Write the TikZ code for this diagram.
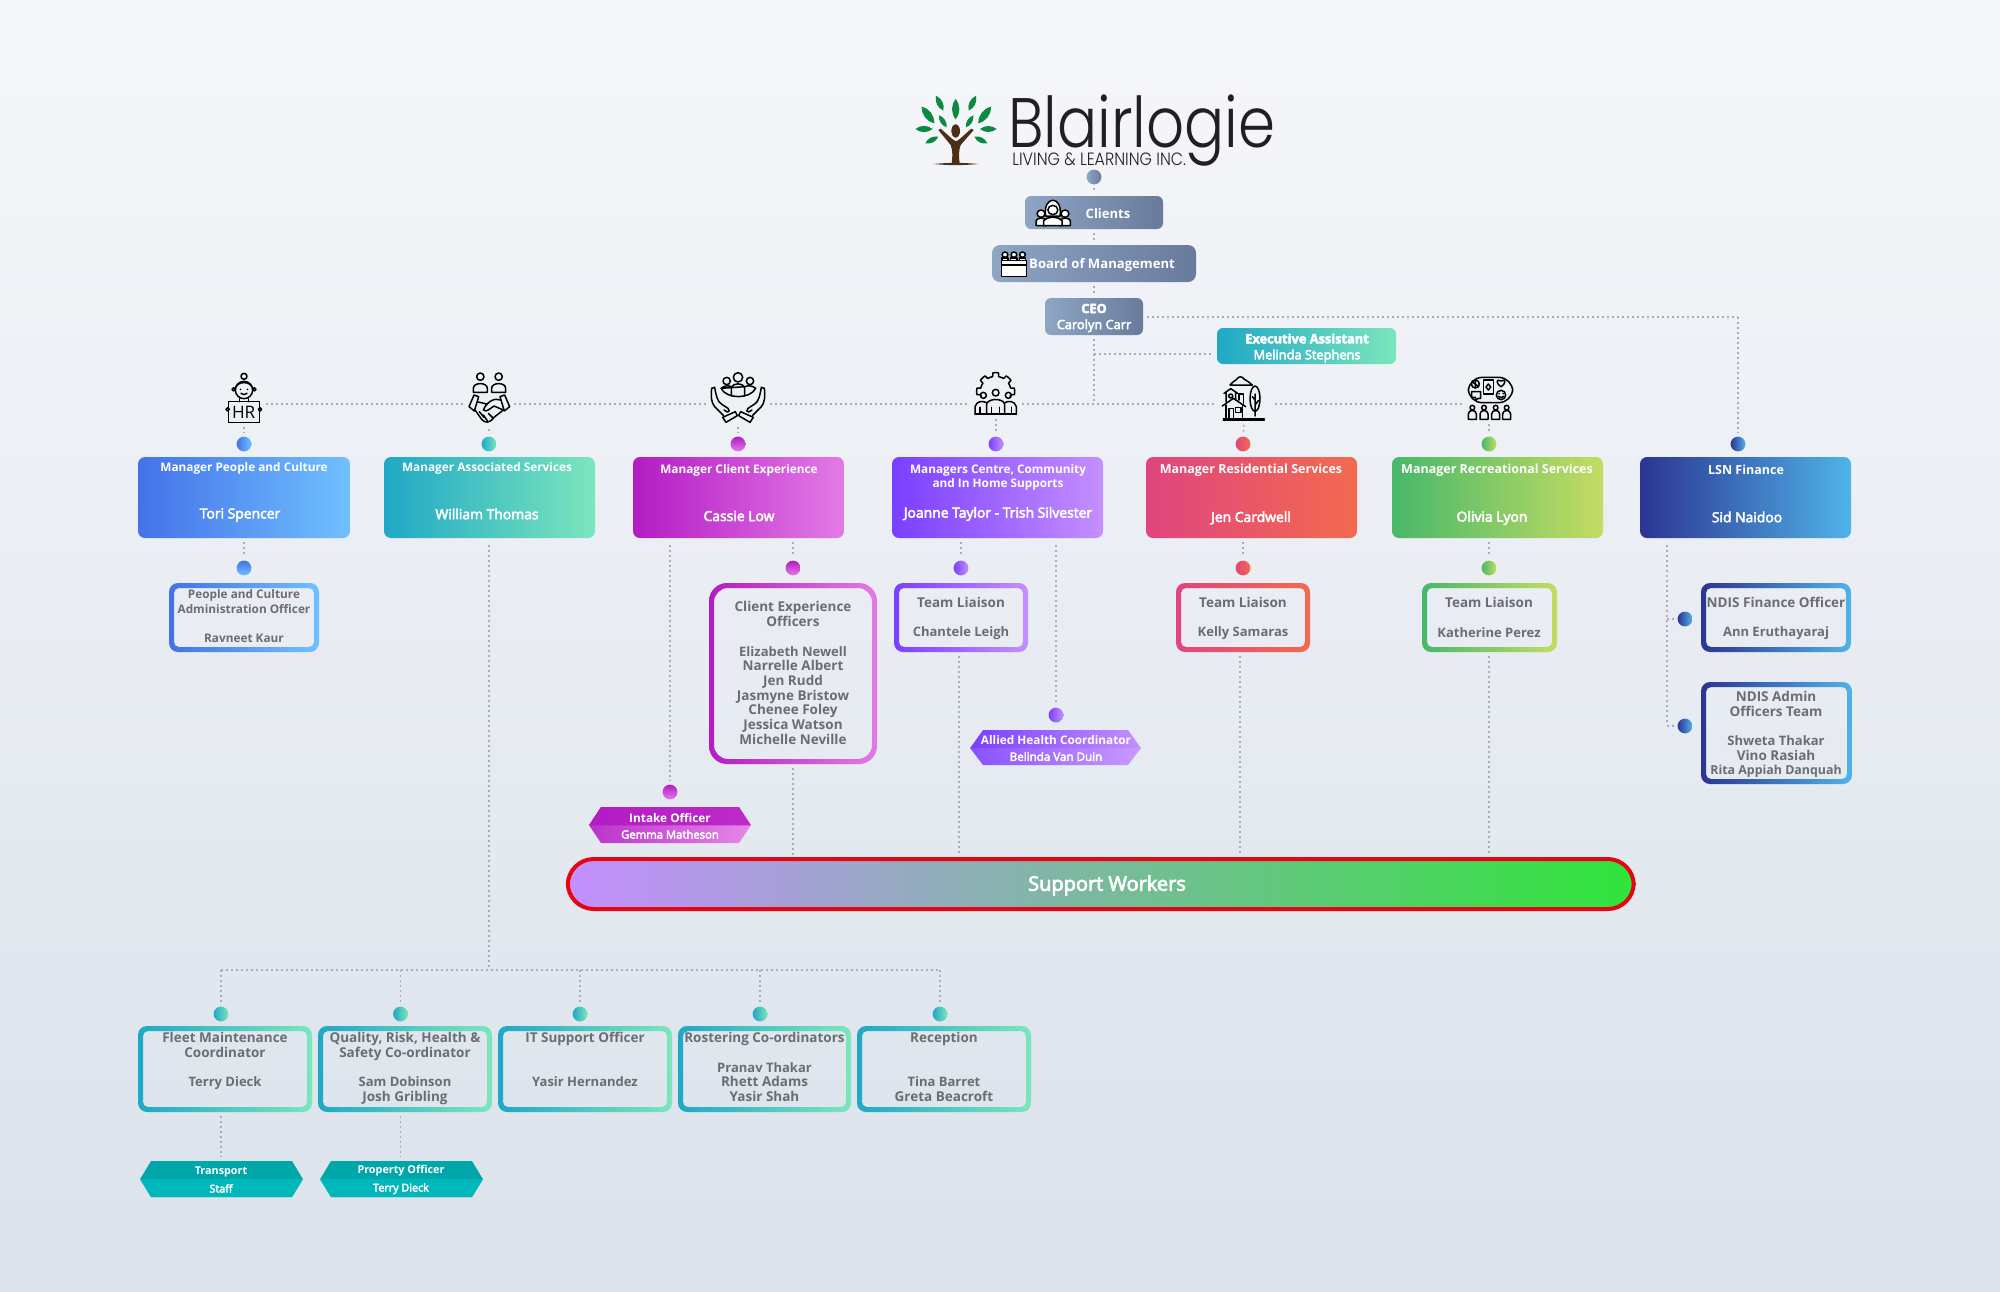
\documentclass[tikz,border=0pt]{standalone}
\usepackage{fontspec}
\setmainfont{Open Sans}
\newfontfamily\semi[FakeBold=3.5]{Open Sans}
\newfontfamily\logofont[UprightFont={* Light},FakeStretch=0.85]{Poppins}
\newfontfamily\logosubfont[UprightFont={* Light},FakeStretch=0.89]{Poppins}
\definecolor{bgT}{HTML}{F6F7FA}\definecolor{bgB}{HTML}{DBE2EB}
\definecolor{gyL}{HTML}{8EA5C4}\definecolor{gyR}{HTML}{697B9B}
\definecolor{pcL}{HTML}{4472E8}\definecolor{pcR}{HTML}{70C0FF}
\definecolor{teL}{HTML}{1FA8C6}\definecolor{teR}{HTML}{7CE6BC}
\definecolor{clL}{HTML}{B31CC4}\definecolor{clR}{HTML}{E37AE6}
\definecolor{mnL}{HTML}{7A3FFF}\definecolor{mnR}{HTML}{C48FFF}
\definecolor{reL}{HTML}{E0457F}\definecolor{reR}{HTML}{F36A4E}
\definecolor{rcL}{HTML}{48B86A}\definecolor{rcR}{HTML}{C4DC62}
\definecolor{lsL}{HTML}{2C3592}\definecolor{lsR}{HTML}{4FB3E8}
\definecolor{hexT}{HTML}{00A7AA}\definecolor{hexB}{HTML}{00B8BC}
\definecolor{txtg}{HTML}{6A6D72}\definecolor{dotg}{HTML}{A9ADB5}
\definecolor{leafg}{HTML}{0C8A44}\definecolor{brown}{HTML}{4B2E16}
\definecolor{logok}{HTML}{231F20}\definecolor{redb}{HTML}{E30613}
\definecolor{barR}{HTML}{2FE53A}\definecolor{inT}{HTML}{BE2ACA}
\newcommand\solidb[7]{%
  \pgfmathsetmacro\bwd{(#4-#2)*0.5}\pgfmathsetmacro\bht{(#5-#3)*0.5}%
  \node[solid box,rounded corners=#7pt,left color=#6L,right color=#6R,minimum width=\bwd pt,minimum height=\bht pt] (#1) at ({(#2+#4)/2},{(#3+#5)/2}) {};}
\newcommand\ringb[7]{%
  \pgfmathsetmacro\bwd{(#4-#2)*0.5}\pgfmathsetmacro\bht{(#5-#3)*0.5}\pgfmathsetmacro\irad{#7-2}%
  \path[even odd rule,left color=#6L,right color=#6R,rounded corners=#7pt] (#2,#3) rectangle (#4,#5) [rounded corners=\irad pt] (#2+5,#3+5) rectangle (#4-5,#5-5);
  \node[solid box,minimum width=\bwd pt,minimum height=\bht pt] (#1) at ({(#2+#4)/2},{(#3+#5)/2}) {};}
\newcommand\dotn[4]{\node[dot node,left color=#4L,right color=#4R] (#1) at (#2,#3) {};}
\newcommand\dotv[4]{\node[dot node,top color=#4L,bottom color=#4R] (#1) at (#2,#3) {};}
\newcommand\hexn[9]{% name x1 x2 top mid bot inset palL palR
  \path[left color=#8,right color=#9] (#2,#5+0.3) -- (#2+#7,#4) -- (#3-#7,#4) -- (#3,#5+0.3) -- cycle;
  \path[left color=#8!90!white,right color=#9!90!white] (#2,#5) -- (#3,#5) -- (#3-#7,#6) -- (#2+#7,#6) -- cycle;
  \coordinate (#1) at ({(#2+#3)/2},#5);}
\newcommand\nsz{\fontsize{6.5}{7.35}\selectfont}
\tikzset{
  x=0.5pt,y=-0.5pt,
  solid box/.style={rectangle,inner sep=0pt,outer sep=0pt},
  dot node/.style={circle,inner sep=0pt,outer sep=0pt,minimum size=7.4pt},
  icon node/.style={rectangle,inner sep=0pt,outer sep=0pt},
  dotline/.style={dotg,line width=0.85pt,dash pattern=on 0.85pt off 1.65pt,shorten <=2pt,shorten >=2pt},
  iconline/.style={black,line width=0.75pt,line join=round,line cap=round},
  wt/.style={white,inner sep=0pt,align=center},
  gt/.style={txtg,inner sep=0pt,align=center},
  tt/.style={font=\fontsize{5.9}{7.35}\selectfont\bfseries},
  ttw/.style={font=\fontsize{6.25}{7.35}\selectfont\bfseries},
  nm/.style={font=\fontsize{6.95}{7.35}\selectfont\semi},
  st/.style={font=\fontsize{5.9}{7.35}\selectfont\bfseries},
  sb/.style={font=\fontsize{6.75}{7.35}\selectfont\bfseries},
  leaf/.style={fill=leafg,draw=none},
}
\newcommand\lf[2]{\path[leaf] (#1) to[bend left=38] (#2) to[bend left=38] (#1);}
\begin{document}
\begin{tikzpicture}
\useasboundingbox (0,0) rectangle (2000,1291);
\shade[top color=bgT,bottom color=bgB] (0,0) rectangle (2000,1291);

% logo
\begin{scope}[shift={(910,90)},scale=1/3]
\lf{137,27}{137,88}\lf{78,17}{100,62}\lf{198,17}{176,62}\lf{35,50}{73,100}\lf{243,50}{205,100}
\lf{87,76}{110,112}\lf{190,76}{168,112}\lf{16,117}{68,117}\lf{260,117}{210,117}\lf{46,160}{85,140}\lf{232,160}{193,140}
\fill[brown] (85,120) -- (92,116) -- (128,148) .. controls (133,155) and (141,155) .. (148,148) -- (184,116) -- (191,120) -- (152,165) .. controls (146,180) and (146,200) .. (149,221) -- (125,221) .. controls (128,200) and (128,180) .. (122,165) -- cycle;
\fill[brown] (137,123) ellipse [x radius=13,y radius=20];
\path[fill=brown] (70,222) to[bend left=5] (205,222) to[bend left=5] (70,222);
\end{scope}
\node[anchor=base west,inner sep=0pt,logok,font=\fontsize{35}{40}\selectfont\logofont] (logo) at (1008,147) {Blairlogie};
\node[anchor=base west,inner sep=0pt,logok,font=\fontsize{8.9}{10}\selectfont\logosubfont] (logosub) at (1012,165) {LIVING \& LEARNING INC.};

% top chain
\dotn{dlogo}{1094}{177}{gy}
\solidb{clients}{1025}{196}{1163}{229}{gy}{3}
\solidb{board}{992}{245}{1196}{282}{gy}{4}
\solidb{ceo}{1045}{298}{1143}{335}{gy}{3}
\solidb{exec}{1217}{328}{1396}{364}{te}{3}
\node[wt,font=\fontsize{6.5}{8}\selectfont\bfseries] (tclients) at (1108,213.5) {Clients};
\node[wt,font=\fontsize{6.55}{8}\selectfont\bfseries] (tboard) at (1102,265.5) {Board of Management};
\node[wt,font=\fontsize{6.4}{8}\selectfont\semi] (tceo) at (1094,318) {\textbf{CEO}\\Carolyn Carr};
\node[wt,font=\fontsize{6.4}{8}\selectfont\semi] (texec) at (1307,348) {\textbf{Executive Assistant}\\Melinda Stephens};
% clients icon
\begin{scope}[shift={(880,70)},xscale=1/2.8,yscale=1/3]
\draw[iconline,fill=white] (437,467) -- (437,452) .. controls (440,442) and (462,442) .. (467,452) -- (467,467) -- cycle;
\draw[iconline,fill=white] (504,467) -- (504,452) .. controls (508,442) and (530,442) .. (533,452) -- (533,467) -- cycle;
\draw[iconline,fill=white] (451,431) circle [radius=11];
\draw[iconline,fill=white] (518,431) circle [radius=11];
\draw[iconline,fill=white] (464,438) .. controls (455,375) and (513,375) .. (504,438) -- cycle;
\draw[iconline,fill=white] (458,467) -- (458,452) .. controls (470,438) and (498,438) .. (510,452) -- (510,467) -- cycle;
\draw[iconline,fill=white] (484,420) circle [radius=14];
\draw[iconline,fill=white] (340,585) rectangle (410,620);
\draw[iconline,fill=white] (340,572) rectangle (410,585);
\foreach \hx in {350,375,399}{\draw[iconline,fill=white] (\hx-9,572) rectangle (\hx+9,564);\draw[iconline,fill=white] (\hx,554) circle [radius=8];}
\end{scope}

% managers
\solidb{mpc}{138}{457}{350}{538}{pc}{3.5}
\solidb{mas}{384}{457}{595}{538}{te}{3.5}
\solidb{mcl}{633}{457}{844}{538}{cl}{3.5}
\solidb{mcc}{892}{457}{1103}{538}{mn}{3.5}
\solidb{mre}{1146}{457}{1357}{538}{re}{3.5}
\solidb{mrc}{1392}{457}{1603}{538}{rc}{3.5}
\solidb{mls}{1640}{457}{1851}{538}{ls}{3.5}
\node[wt,tt] (t1a) at (244,468.5) {Manager People and Culture};
\node[wt,nm] (t1b) at (240,515) {Tori Spencer};
\node[wt,tt] (t2a) at (487,468.5) {Manager Associated Services};
\node[wt,nm] (t2b) at (487,514) {William Thomas};
\node[wt,tt] (t3a) at (739,470.5) {Manager Client Experience};
\node[wt,nm] (t3b) at (739,516) {Cassie Low};
\node[wt,tt] (t4a) at (998,477.5) {Managers Centre, Community\\and In Home Supports};
\node[wt,nm] (t4b) at (998,514) {Joanne Taylor - Trish Silvester};
\node[wt,ttw] (t5a) at (1251,470) {Manager Residential Services};
\node[wt,nm] (t5b) at (1251,518) {Jen Cardwell};
\node[wt,ttw] (t6a) at (1497,470) {Manager Recreational Services};
\node[wt,nm] (t6b) at (1492,518) {Olivia Lyon};
\node[wt,ttw] (t7a) at (1746,470) {LSN Finance};
\node[wt,nm] (t7b) at (1747,517) {Sid Naidoo};

% dots row
\dotn{d1}{244}{444}{pc}\dotn{d2}{489}{444}{te}\dotv{d3}{738}{444}{cl}\dotn{d4}{996}{444}{mn}
\dotn{d5}{1243}{444}{re}\dotn{d6}{1489}{444}{rc}\dotn{d7}{1738}{444}{ls}

% icon placeholders
\node[icon node,minimum width=18pt,minimum height=24pt] (i1) at (244,399) {};
\node[icon node,minimum width=21pt,minimum height=26pt] (i2) at (489,399) {};
\node[icon node,minimum width=28pt,minimum height=25pt] (i3) at (738,398) {};
\node[icon node,minimum width=22pt,minimum height=21pt] (i4) at (996,394) {};
\node[icon node,minimum width=26pt,minimum height=22pt] (i5) at (1245,399) {};
\node[icon node,minimum width=22pt,minimum height=22pt] (i6) at (1489,398) {};
\coordinate (mainy) at (0,404);
\foreach \a/\b in {i1/i2,i2/i3,i3/i4,i4/i5,i5/i6}{\draw[dotline] (\a.east |- mainy) -- (\b.west |- mainy);}
\foreach \a/\b in {i1/d1,i2/d2,i3/d3,i4/d4,i5/d5,i6/d6}{\draw[dotline] (\a) -- (\b);}
\draw[dotline] (dlogo) -- (clients);
\draw[dotline] (clients) -- (board);
\draw[dotline] (board) -- (ceo);
\draw[dotline,shorten >=0pt] (ceo) -- (ceo |- mainy);
\coordinate (execj) at (1094,354);
\draw[dotline,shorten <=0pt] (execj) -- (exec.west |- execj);
\coordinate (ceoR) at (1143,317);
\coordinate (lsR) at (1738,317);
\draw[dotline,shorten >=0pt] (ceoR) -- (lsR);
\draw[dotline,shorten <=0pt] (lsR) -- (d7);

% HR icon
\begin{scope}[shift={(120,360)},scale=1/3]
\draw[iconline] (372,49) circle [radius=9];
\draw[iconline] (372,90) circle [radius=26];
\draw[iconline] (346,85) .. controls (352,62) and (392,62) .. (398,85);
\draw[iconline] (341,88) circle [radius=5];
\draw[iconline] (403,88) circle [radius=5];
\draw[iconline] (361,88) -- (362,88) (382,88) -- (383,88) (363,100) .. controls (368,105) and (376,105) .. (381,100);
\draw[iconline] (358,116) -- (358,125) (386,116) -- (386,125);
\draw[iconline] (325,187) -- (325,125) -- (418,125) -- (418,187) -- cycle;
\draw[iconline,fill=bgT!60!bgB] (323,148) circle [radius=5];
\draw[iconline,fill=bgT!60!bgB] (420,148) circle [radius=5];
\node[black,inner sep=0pt,font=\fontsize{8.6}{10}\selectfont] (hrt) at (371,157) {HR};
\end{scope}
% handshake icon
\begin{scope}[shift={(120,360)},scale=1/3]
\foreach \ox in {0,55}{
 \draw[iconline] (1081+\ox,50) circle [radius=11];
 \draw[iconline] (1060+\ox,97) -- (1060+\ox,85) .. controls (1060+\ox,66) and (1102+\ox,66) .. (1102+\ox,85) -- (1102+\ox,97) -- cycle;}
\draw[iconline] (1047,140) -- (1062,105) -- (1076,110) -- (1063,153) -- cycle;
\draw[iconline] (1169,140) -- (1154,105) -- (1140,110) -- (1153,153) -- cycle;
\draw[iconline] (1075,126) -- (1100,132) (1141,120) .. controls (1125,112) and (1100,125) .. (1090,150) .. controls (1100,158) and (1110,145) .. (1122,138) -- (1150,150);
\draw[iconline] (1065,150) -- (1085,178) .. controls (1095,190) and (1110,190) .. (1122,172) -- (1150,150);
\draw[iconline] (1078,155) -- (1092,172) (1090,165) -- (1102,182) (1105,160) -- (1120,175);
\end{scope}
% hands icon
\begin{scope}[shift={(620,360)},scale=1/3]
\draw[iconline] (354,52) circle [radius=14];
\draw[iconline] (320,63) circle [radius=11];
\draw[iconline] (390,63) circle [radius=11];
\draw[iconline] (303,85) .. controls (310,78) and (325,75) .. (334,80) (374,80) .. controls (385,75) and (400,78) .. (407,85) .. controls (390,118) and (320,118) .. (303,85) -- cycle;
\draw[iconline] (334,108) -- (334,82) .. controls (340,68) and (368,68) .. (374,82) -- (374,108);
\foreach \m in {1,-1}{
\begin{scope}[shift={(354,0)},xscale=\m]
\draw[iconline] (-79,85) .. controls (-82,110) and (-80,128) .. (-70,140) -- (-44,166);
\draw[iconline] (-79,85) -- (-70,82) .. controls (-66,105) and (-62,125) .. (-50,132) -- (-30,145) .. controls (-24,150) and (-26,158) .. (-32,156) -- (-42,150);
\draw[iconline] (-46,172) -- (-8,155) -- (-2,167) -- (-36,187) -- cycle;
\end{scope}}
\end{scope}
% gear icon
\begin{scope}[shift={(620,360)},scale=1/3]
\draw[iconline] plot[domain=160:380,samples=79] ({1127+(46+11*(cos(8*\x)>0))*cos(\x)},{95+(46+11*(cos(8*\x)>0))*sin(\x)});
\draw[iconline] (1127,98) circle [radius=10];
\draw[iconline] (1090,106) circle [radius=9];
\draw[iconline] (1165,106) circle [radius=9];
\draw[iconline] (1065,162) -- (1065,140) .. controls (1070,122) and (1088,122) .. (1100,128);
\draw[iconline] (1189,162) -- (1189,140) .. controls (1184,122) and (1166,122) .. (1154,128);
\draw[iconline] (1100,162) -- (1100,132) .. controls (1105,114) and (1149,114) .. (1154,132) -- (1154,162);
\draw[iconline] (1065,162) -- (1189,162);
\draw[iconline] (1080,162) -- (1080,142) (1174,162) -- (1174,142) (1115,162) -- (1115,142) (1139,162) -- (1139,142);
\end{scope}
% house icon
\begin{scope}[shift={(1215,370)},scale=1/3]
\draw[iconline] (45,45) .. controls (55,33) and (62,32) .. (65,28) .. controls (70,18) and (82,18) .. (88,28) .. controls (95,32) and (105,38) .. (112,45) -- cycle;
\draw[iconline] (25,145) -- (148,145);
\draw[iconline] (25,150) -- (148,150);
\draw[iconline] (120,86) ellipse [x radius=15,y radius=38];
\draw[iconline] (120,72) -- (120,138) (120,105) -- (130,92) (120,90) -- (112,80);
\draw[iconline] (22,108) -- (55,85) -- (92,110);
\draw[iconline] (33,105) -- (33,145) (82,105) -- (82,145);
\draw[iconline] (42,145) -- (42,115) -- (56,115) -- (56,145);
\draw[iconline] (62,112) rectangle (78,128);
\draw[iconline] (27,70) -- (47,56) -- (68,70) (33,68) -- (33,96) (62,68) -- (62,88);
\draw[iconline] (47,78) circle [radius=6];
\draw[iconline] (72,90) -- (72,72) -- (85,72) -- (85,100);
\end{scope}
% recreation icon
\begin{scope}[shift={(1460,370)},scale=1/3]
\draw[iconline,rounded corners=7pt] (25,22) rectangle (158,98);
\draw[iconline] (46,42) circle [radius=12];
\draw[iconline] (36,35) -- (56,50) (46,30) -- (46,54);
\draw[iconline] (70,30) rectangle (100,72);
\draw[iconline] (85,42) -- (92,51) -- (85,60) -- (78,51) -- cycle;
\draw[iconline] (123,50) .. controls (105,38) and (110,25) .. (123,33) .. controls (136,25) and (141,38) .. (123,50) -- cycle;
\draw[iconline] (35,65) -- (62,65) -- (62,85) -- (55,85) -- (48,90) -- (46,82) -- (35,82) -- cycle;
\draw[iconline] (123,75) circle [radius=14];
\draw[iconline] (117,71) -- (118,71) (129,71) -- (130,71) (115,79) .. controls (120,84) and (127,84) .. (131,79);
\foreach \px in {37,72,107,140}{
 \draw[iconline] (\px,113) circle [radius=7];
 \draw[iconline] (\px-12,148) -- (\px-12,132) .. controls (\px-12,118) and (\px+12,118) .. (\px+12,132) -- (\px+12,148) -- cycle;}
\end{scope}

% sub boxes row
\dotv{s1}{244}{568}{pc}\dotv{s3}{793}{568}{cl}\dotn{s4}{961}{568}{mn}\dotn{s5}{1243}{568}{re}\dotn{s6}{1489}{568}{rc}
\ringb{b1}{169}{583}{319}{652}{pc}{4.5}
\ringb{b3}{709}{583}{877}{764}{cl}{9}
\ringb{b4}{894}{583}{1028}{652}{mn}{4.5}
\ringb{b5}{1176}{583}{1310}{652}{re}{4.5}
\ringb{b6}{1422}{583}{1557}{652}{rc}{4.5}
\ringb{b7}{1701}{583}{1851}{652}{ls}{4.5}
\ringb{b8}{1701}{682}{1852}{784}{ls}{4.5}
\node[gt,st] (tb1) at (244,616) {People and Culture\\Administration Officer\\~\\Ravneet Kaur};
\node[gt,sb] (tb3) at (793,673) {Client Experience\\Officers\\~\\\nsz Elizabeth Newell\\Narrelle Albert\\Jen Rudd\\Jasmyne Bristow\\Chenee Foley\\Jessica Watson\\Michelle Neville};
\node[gt,sb] (tb4) at (961,618.5) {Team Liaison\\~\\\nsz Chantele Leigh};
\node[gt,sb] (tb5) at (1243,618.5) {Team Liaison\\~\\\nsz Kelly Samaras};
\node[gt,sb] (tb6) at (1489,617.5) {Team Liaison\\~\\\nsz Katherine Perez};
\node[gt,sb] (tb7) at (1776,618.5) {NDIS Finance Officer\\~\\\nsz Ann Eruthayaraj};
\node[gt,sb] (tb8) at (1776,734.5) {NDIS Admin\\Officers Team\\~\\\nsz Shweta Thakar\\Vino Rasiah\\\fontsize{6.2}{7.35}\selectfont Rita Appiah Danquah};
\foreach \a/\b in {mpc/s1,mcl/s3,mcc/s4,mre/s5,mrc/s6}{\coordinate (tmp) at (\a.south); \draw[dotline] (\b |- tmp) -- (\b);}

% LSN side branch
\dotn{n1}{1685}{619}{ls}\dotn{n2}{1685}{726}{ls}
\coordinate (lt) at (1667,541);\coordinate (lm) at (1667,619);\coordinate (lb) at (1667,726);
\draw[dotline] (lt) -- (lb);
\draw[dotline,shorten <=0pt] (lb) -- (n2);
\draw[dotline,shorten <=0pt] (lm) -- (n1);

% allied + intake
\coordinate (alt) at (1056,541);
\dotn{dal}{1056}{715}{mn}
\draw[dotline] (alt) -- (dal);
\hexn{hal}{970}{1141}{730}{748}{765}{13}{mnL}{mnR}
\node[wt,font=\fontsize{5.9}{8.4}\selectfont\bfseries] (tal) at (1056,748) {Allied Health Coordinator\\\fontsize{5.8}{8.4}\selectfont\mdseries\semi Belinda Van Duin};
\coordinate (int) at (670,541);
\dotv{din}{670}{792}{cl}
\draw[dotline] (int) -- (din);
\hexn{hin}{589}{751}{807}{825}{843}{12}{clL}{clR}
\path[left color=clL,right color=inT] (589,825.3) -- (601,807) -- (739,807) -- (751,825.3) -- cycle;
\node[wt,font=\fontsize{5.9}{8.1}\selectfont\bfseries] (tin) at (670,826) {Intake Officer\\\fontsize{5.65}{8.1}\selectfont\mdseries\semi Gemma Matheson};

% support bar
\node[solid box,draw=redb,line width=2pt,rounded corners=13pt,left color=mnR,right color=barR,minimum width=533pt,minimum height=25pt] (bar) at (1100.75,884) {};
\node[wt,font=\fontsize{10}{12}\selectfont\semi] (tbar) at (1107,885.5) {Support Workers};
\foreach \sx/\sy in {793/b3,959/b4,1240/b5,1489/b6}{
  \coordinate (tmpa) at (\sx,0);
  \draw[dotline] (tmpa |- \sy.south) -- (tmpa |- bar.north);}

% associated tree
\coordinate (asT) at (489,541);\coordinate (asJ) at (489,970);
\coordinate (asL) at (221,970);\coordinate (asR) at (940,970);
\draw[dotline,shorten >=0pt] (asT) -- (asJ);
\draw[dotline,shorten <=0pt,shorten >=0pt] (asL) -- (asR);
\dotn{e1}{221}{1014}{te}\dotn{e2}{400.5}{1014}{te}\dotn{e3}{580}{1014}{te}\dotn{e4}{760}{1014}{te}\dotn{e5}{940}{1014}{te}
\foreach \e in {e1,e2,e3,e4,e5}{\draw[dotline,shorten <=0pt] (\e |- asJ) -- (\e);}
\ringb{c1}{138}{1026}{312}{1112}{te}{4.5}
\ringb{c2}{318}{1026}{492}{1112}{te}{4.5}
\ringb{c3}{498}{1026}{672}{1112}{te}{4.5}
\ringb{c4}{678}{1026}{851}{1112}{te}{4.5}
\ringb{c5}{857}{1026}{1031}{1112}{te}{4.5}
\node[gt,sb,anchor=north] (tc1) at (225,1032) {Fleet Maintenance\\Coordinator\\~\\\nsz Terry Dieck};
\node[gt,sb,anchor=north] (tc2) at (405,1032) {Quality, Risk, Health \&\\Safety Co-ordinator\\~\\\nsz Sam Dobinson\\Josh Gribling};
\node[gt,sb,anchor=north] (tc3) at (585,1032) {IT Support Officer\\~\\~\\\nsz Yasir Hernandez};
\node[gt,sb,anchor=north] (tc4) at (764.5,1032) {Rostering Co-ordinators\\~\\\nsz Pranav Thakar\\Rhett Adams\\Yasir Shah};
\node[gt,sb,anchor=north] (tc5) at (944,1032) {Reception\\~\\~\\\nsz Tina Barret\\Greta Beacroft};
% hexes
\hexn{h1}{140}{303}{1161}{1179}{1197}{11}{hexT}{hexT}
\hexn{h2}{320}{483}{1161}{1179}{1197}{11}{hexT}{hexT}
\path[fill=hexB] (140,1179) -- (303,1179) -- (292,1197) -- (151,1197) -- cycle;
\path[fill=hexB] (320,1179) -- (483,1179) -- (472,1197) -- (331,1197) -- cycle;
\node[wt,font=\fontsize{5.4}{9.2}\selectfont\bfseries] (th1) at (221,1179.5) {Transport\\\mdseries\semi Staff};
\node[wt,font=\fontsize{5.4}{9.2}\selectfont\bfseries] (th2) at (401,1179.5) {Property Officer\\\mdseries\semi Terry Dieck};
\coordinate (h1top) at (221,1161);\coordinate (h2top) at (400.5,1161);
\coordinate (c1b) at (221,1112);\coordinate (c2b) at (400.5,1112);
\draw[dotline] (c1b) -- (h1top);
\draw[dotline] (c2b) -- (h2top);
\end{tikzpicture}
\end{document}
